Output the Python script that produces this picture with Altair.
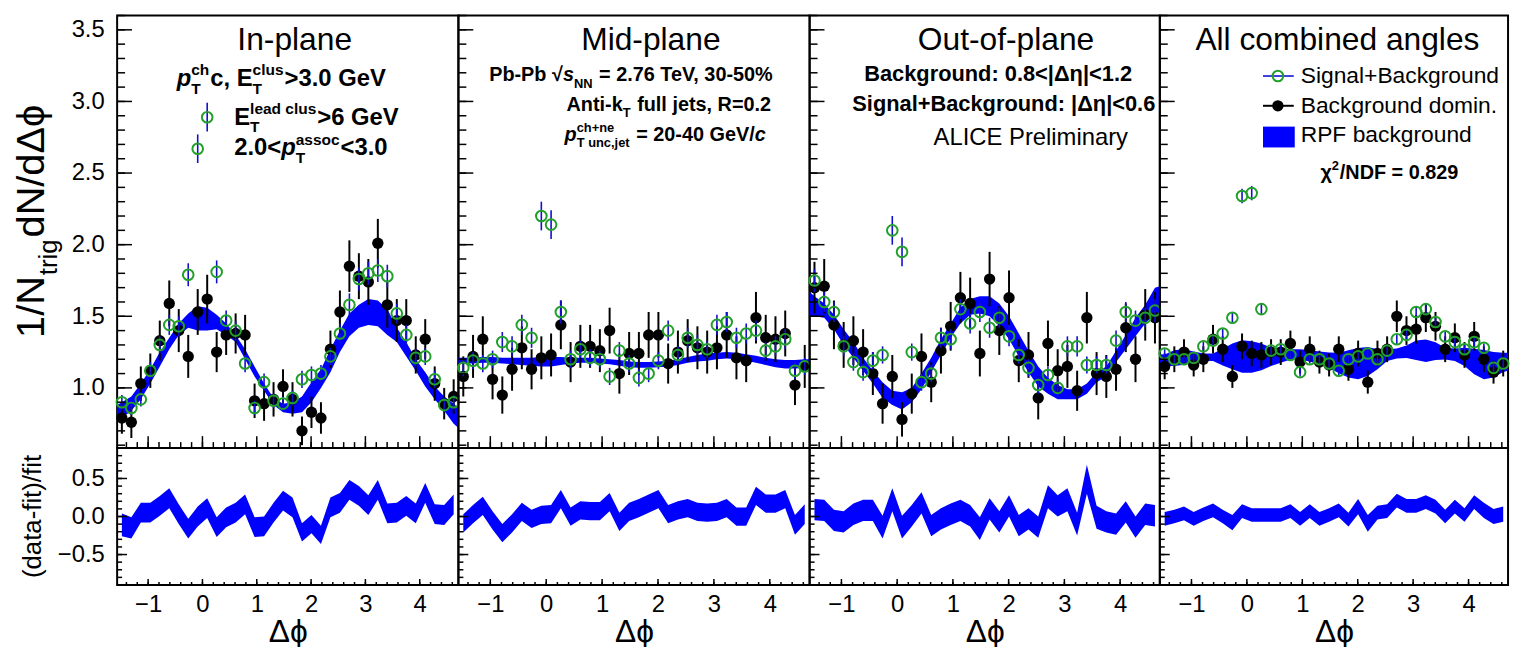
import math
import altair as alt
import pandas as pd

FONT = "Liberation Sans"
PI = math.pi
NB = 36
DPHI = [-PI / 2 + (i + 0.5) * 2 * PI / NB for i in range(NB)]
BAND_X = [-PI / 2] + DPHI + [3 * PI / 2]

TITLES = ["In-plane", "Mid-plane", "Out-of-plane", "All combined angles"]

# ---------------- data ----------------
P1_BLACK = [0.79, 0.76, 1.03, 1.12, 1.33, 1.59, 1.40, 1.22, 1.53, 1.62, 1.25, 1.37, 1.38, 1.37, 0.91, 0.89, 0.92, 1.01,
            0.92, 0.70, 0.83, 0.79, 1.27, 1.53, 1.85, 1.78, 1.74, 2.01, 1.58, 1.47, 1.47, 1.23, 1.34, 1.03, 0.89, 0.94]
P1_BLACK_ERR = [0.11, 0.11, 0.12, 0.12, 0.14, 0.16, 0.15, 0.15, 0.16, 0.17, 0.14, 0.14, 0.14, 0.14, 0.12, 0.12, 0.12, 0.12,
                0.12, 0.10, 0.11, 0.11, 0.13, 0.15, 0.18, 0.16, 0.16, 0.17, 0.16, 0.15, 0.15, 0.13, 0.14, 0.12, 0.11, 0.12]
P1_GREEN = [0.90, 0.86, 0.92, 1.12, 1.30, 1.44, 1.43, 1.79, 2.67, 2.89, 1.81, 1.47, 1.40, 1.17, 0.86, 1.04, 0.91, 0.89,
            0.93, 1.06, 1.09, 1.10, 1.22, 1.38, 1.58, 1.76, 1.80, 1.82, 1.78, 1.52, 1.37, 1.21, 1.22, 1.06, 0.88, 0.90]
P1_GREEN_ERR = [0.05, 0.05, 0.05, 0.06, 0.06, 0.07, 0.07, 0.08, 0.10, 0.10, 0.08, 0.07, 0.07, 0.06, 0.05, 0.06, 0.05, 0.05,
                0.05, 0.06, 0.06, 0.06, 0.06, 0.07, 0.08, 0.08, 0.08, 0.08, 0.08, 0.07, 0.07, 0.06, 0.06, 0.06, 0.05, 0.05]
P1_BAND_LO = [0.77, 0.79, 0.84, 0.92, 1.03, 1.15, 1.27, 1.37, 1.42, 1.40, 1.40, 1.41, 1.37, 1.32, 1.20, 1.08, 0.98, 0.88,
              0.83, 0.82, 0.83, 0.90, 1.00, 1.11, 1.25, 1.36, 1.42, 1.44, 1.43, 1.37, 1.32, 1.22, 1.12, 1.01, 0.92, 0.84,
              0.75, 0.72]
P1_BAND_HI = [0.88, 0.90, 0.94, 1.03, 1.13, 1.25, 1.35, 1.45, 1.52, 1.57, 1.56, 1.51, 1.45, 1.37, 1.27, 1.15, 1.03, 0.93,
              0.89, 0.90, 0.94, 1.04, 1.13, 1.27, 1.40, 1.52, 1.58, 1.62, 1.61, 1.55, 1.42, 1.32, 1.20, 1.11, 1.01, 0.94,
              0.89, 0.86]
P1_RATIO = [-0.11, -0.15, 0.05, 0.05, 0.14, 0.24, 0.03, -0.16, 0.00, 0.11, -0.14, -0.01, 0.05, 0.16, -0.14, -0.13, 0.05,
            0.21, 0.12, -0.21, -0.10, -0.24, 0.12, 0.18, 0.35, 0.27, 0.15, 0.35, 0.04, 0.05, 0.14, 0.04, 0.31, 0.03,
            0.02, 0.16]
P1_RATIO_ERR = [0.15, 0.14, 0.13, 0.13, 0.13, 0.13, 0.13, 0.13, 0.13, 0.13, 0.13, 0.13, 0.13, 0.13, 0.13, 0.13, 0.13, 0.13,
                0.13, 0.12, 0.12, 0.12, 0.13, 0.13, 0.13, 0.13, 0.13, 0.13, 0.13, 0.13, 0.13, 0.13, 0.13, 0.13, 0.13, 0.13]

P2_BLACK = [1.08, 1.22, 1.34, 1.06, 0.95, 1.13, 1.28, 1.13, 1.21, 1.23, 1.44, 1.18, 1.29, 1.29, 1.26, 1.40, 1.10, 1.24,
            1.24, 1.37, 1.37, 1.17, 1.25, 1.33, 1.28, 1.25, 1.28, 1.37, 1.21, 1.19, 1.49, 1.35, 1.34, 1.38, 1.02, 1.15]
P2_BLACK_ERR = [0.14, 0.15, 0.16, 0.14, 0.13, 0.15, 0.15, 0.14, 0.15, 0.15, 0.17, 0.14, 0.15, 0.15, 0.15, 0.16, 0.14, 0.15,
                0.15, 0.16, 0.16, 0.14, 0.15, 0.15, 0.15, 0.15, 0.15, 0.16, 0.15, 0.15, 0.18, 0.16, 0.16, 0.16, 0.14, 0.15]
P2_GREEN = [1.14, 1.19, 1.17, 1.20, 1.32, 1.29, 1.44, 1.35, 2.20, 2.14, 1.53, 1.20, 1.27, 1.21, 1.20, 1.08, 1.26, 1.17,
            1.07, 1.10, 1.19, 1.40, 1.23, 1.35, 1.30, 1.27, 1.44, 1.46, 1.35, 1.38, 1.40, 1.26, 1.29, 1.34, 1.12, 1.15]
P2_GREEN_ERR = [0.06, 0.06, 0.06, 0.06, 0.07, 0.07, 0.07, 0.07, 0.10, 0.10, 0.08, 0.06, 0.06, 0.06, 0.06, 0.06, 0.06, 0.06,
                0.06, 0.06, 0.06, 0.07, 0.06, 0.07, 0.07, 0.06, 0.07, 0.07, 0.07, 0.07, 0.07, 0.06, 0.07, 0.07, 0.06, 0.06]
P2_BAND_LO = [1.17, 1.17, 1.17, 1.175, 1.175, 1.17, 1.165, 1.16, 1.155, 1.15, 1.15, 1.16, 1.17, 1.175, 1.175, 1.17, 1.165,
              1.155, 1.145, 1.14, 1.14, 1.145, 1.15, 1.16, 1.175, 1.185, 1.19, 1.20, 1.205, 1.20, 1.19, 1.175, 1.16,
              1.145, 1.135, 1.135, 1.14, 1.14]
P2_BAND_HI = [1.21, 1.21, 1.21, 1.215, 1.215, 1.21, 1.21, 1.21, 1.21, 1.215, 1.215, 1.215, 1.21, 1.21, 1.21, 1.205, 1.20,
              1.195, 1.185, 1.18, 1.18, 1.185, 1.19, 1.20, 1.215, 1.23, 1.24, 1.245, 1.25, 1.245, 1.235, 1.225, 1.21,
              1.20, 1.195, 1.195, 1.20, 1.20]
P2_RATIO = [-0.09, 0.03, 0.14, -0.05, -0.22, -0.09, 0.06, -0.03, 0.02, 0.03, 0.23, 0.00, 0.08, 0.07, 0.07, 0.19, -0.07,
            0.06, 0.11, 0.17, 0.23, 0.03, 0.08, 0.11, 0.06, 0.05, 0.06, 0.11, 0.00, 0.00, 0.27, 0.17, 0.17, 0.23,
            -0.11, 0.03]
P2_RATIO_ERR = [0.12, 0.12, 0.12, 0.12, 0.12, 0.12, 0.12, 0.12, 0.12, 0.12, 0.12, 0.12, 0.12, 0.12, 0.12, 0.12, 0.12, 0.12,
                0.12, 0.12, 0.12, 0.12, 0.12, 0.12, 0.12, 0.12, 0.12, 0.12, 0.12, 0.12, 0.12, 0.12, 0.12, 0.12, 0.13, 0.13]

P3_BLACK = [1.70, 1.71, 1.44, 1.30, 1.33, 1.25, 1.10, 0.89, 1.08, 0.78, 0.96, 1.22, 1.04, 1.26, 1.43, 1.63, 1.59, 1.24,
            1.76, 1.40, 1.63, 1.19, 1.23, 0.93, 1.31, 1.12, 1.15, 0.98, 1.49, 1.10, 1.08, 1.13, 1.42, 1.20, 1.51, 1.49]
P3_BLACK_ERR = [0.18, 0.19, 0.17, 0.16, 0.17, 0.16, 0.15, 0.14, 0.15, 0.12, 0.14, 0.16, 0.14, 0.16, 0.17, 0.18, 0.18, 0.16,
                0.19, 0.17, 0.19, 0.15, 0.16, 0.15, 0.16, 0.15, 0.15, 0.14, 0.18, 0.15, 0.15, 0.15, 0.17, 0.16, 0.18, 0.18]
P3_GREEN = [1.75, 1.60, 1.53, 1.29, 1.18, 1.11, 1.19, 1.23, 2.10, 1.95, 1.25, 1.04, 1.10, 1.35, 1.34, 1.55, 1.45, 1.53,
            1.42, 1.49, 1.36, 1.23, 1.14, 1.02, 1.09, 1.00, 1.29, 1.29, 1.16, 1.16, 1.16, 1.33, 1.53, 1.47, 1.49, 1.54]
P3_GREEN_ERR = [0.08, 0.07, 0.07, 0.07, 0.06, 0.06, 0.06, 0.06, 0.10, 0.10, 0.06, 0.06, 0.06, 0.07, 0.07, 0.07, 0.07, 0.07,
                0.07, 0.07, 0.07, 0.06, 0.06, 0.06, 0.06, 0.06, 0.07, 0.07, 0.06, 0.06, 0.06, 0.07, 0.07, 0.07, 0.07, 0.08]
P3_BAND_LO = [1.50, 1.50, 1.49, 1.41, 1.30, 1.21, 1.12, 1.03, 0.93, 0.88, 0.85, 0.90, 0.99, 1.11, 1.23, 1.35, 1.45, 1.51,
              1.52, 1.50, 1.43, 1.34, 1.22, 1.11, 1.01, 0.96, 0.92, 0.92, 0.92, 0.96, 1.04, 1.08, 1.18, 1.27, 1.36, 1.45,
              1.52, 1.50]
P3_BAND_HI = [1.67, 1.64, 1.59, 1.51, 1.41, 1.32, 1.21, 1.12, 1.04, 0.98, 0.97, 1.00, 1.10, 1.21, 1.34, 1.45, 1.56, 1.62,
              1.64, 1.64, 1.59, 1.50, 1.38, 1.26, 1.15, 1.07, 1.02, 0.99, 0.99, 1.03, 1.11, 1.15, 1.26, 1.37, 1.49, 1.58,
              1.70, 1.71]
P3_RATIO = [0.09, 0.08, -0.05, -0.07, 0.03, 0.08, 0.08, -0.14, 0.22, -0.14, 0.01, 0.18, -0.12, -0.03, 0.03, 0.08, 0.01,
            -0.16, 0.10, -0.07, 0.14, -0.12, -0.03, -0.14, 0.26, 0.14, 0.22, -0.10, 0.49, -0.01, -0.07, -0.10, 0.06,
            -0.14, 0.03, 0.01]
P3_RATIO_ERR = [0.14, 0.14, 0.14, 0.14, 0.14, 0.14, 0.14, 0.15, 0.15, 0.15, 0.14, 0.14, 0.14, 0.14, 0.14, 0.14, 0.14, 0.15,
                0.14, 0.14, 0.14, 0.14, 0.14, 0.14, 0.15, 0.14, 0.15, 0.15, 0.19, 0.15, 0.14, 0.14, 0.14, 0.14, 0.14, 0.14]

P4_BLACK = [1.15, 1.20, 1.25, 1.16, 1.20, 1.34, 1.27, 1.08, 1.29, 1.24, 1.23, 1.25, 1.25, 1.31, 1.18, 1.27, 1.18, 1.16,
            1.27, 1.13, 1.24, 1.04, 1.24, 1.27, 1.50, 1.40, 1.41, 1.49, 1.43, 1.27, 1.35, 1.23, 1.36, 1.20, 1.11, 1.17]
P4_BLACK_ERR = [0.09, 0.09, 0.09, 0.08, 0.09, 0.10, 0.09, 0.08, 0.09, 0.09, 0.09, 0.09, 0.09, 0.09, 0.08, 0.09, 0.08, 0.08,
                0.09, 0.08, 0.09, 0.08, 0.09, 0.09, 0.11, 0.10, 0.10, 0.10, 0.10, 0.09, 0.10, 0.09, 0.10, 0.09, 0.08, 0.09]
P4_GREEN = [1.24, 1.20, 1.20, 1.21, 1.29, 1.33, 1.38, 1.49, 2.34, 2.36, 1.55, 1.26, 1.27, 1.23, 1.11, 1.20, 1.20, 1.17,
            1.12, 1.20, 1.22, 1.24, 1.20, 1.26, 1.34, 1.37, 1.53, 1.55, 1.46, 1.36, 1.32, 1.27, 1.32, 1.28, 1.14, 1.17]
P4_GREEN_ERR = [0.03, 0.03, 0.03, 0.03, 0.03, 0.03, 0.035, 0.035, 0.05, 0.05, 0.04, 0.03, 0.03, 0.03, 0.03, 0.03, 0.03,
                0.03, 0.03, 0.03, 0.03, 0.03, 0.03, 0.03, 0.035, 0.035, 0.04, 0.04, 0.035, 0.035, 0.035, 0.03, 0.035,
                0.03, 0.03, 0.03]
P4_BAND_LO = [1.150, 1.153, 1.153, 1.162, 1.176, 1.190, 1.188, 1.157, 1.130, 1.106, 1.106, 1.123, 1.153, 1.176, 1.199,
              1.199, 1.185, 1.164, 1.141, 1.102, 1.072, 1.060, 1.083, 1.130, 1.188, 1.206, 1.208, 1.194, 1.181, 1.194,
              1.199, 1.188, 1.153, 1.095, 1.060, 1.072, 1.111, 1.120]
P4_BAND_HI = [1.235, 1.234, 1.262, 1.269, 1.255, 1.241, 1.241, 1.273, 1.310, 1.333, 1.326, 1.310, 1.280, 1.273, 1.269,
              1.269, 1.264, 1.255, 1.248, 1.245, 1.262, 1.278, 1.285, 1.269, 1.269, 1.275, 1.296, 1.331, 1.338, 1.319,
              1.280, 1.275, 1.280, 1.273, 1.264, 1.250, 1.245, 1.245]
P4_RATIO = [-0.03, 0.00, 0.04, -0.03, 0.03, 0.08, 0.00, -0.08, 0.07, 0.02, 0.02, 0.02, 0.02, 0.07, -0.03, 0.07, -0.03,
            0.02, 0.08, -0.04, 0.13, -0.09, 0.05, 0.07, 0.21, 0.14, 0.14, 0.19, 0.13, 0.00, 0.13, 0.02, 0.19, 0.08,
            0.00, 0.03]
P4_RATIO_ERR = [0.09, 0.09, 0.09, 0.09, 0.09, 0.09, 0.09, 0.10, 0.09, 0.09, 0.09, 0.09, 0.09, 0.09, 0.09, 0.09, 0.09, 0.09,
                0.09, 0.09, 0.10, 0.11, 0.09, 0.09, 0.09, 0.09, 0.09, 0.09, 0.09, 0.09, 0.09, 0.09, 0.09, 0.10, 0.10, 0.10]

BLACK = [P1_BLACK, P2_BLACK, P3_BLACK, P4_BLACK]
BLACK_ERR = [P1_BLACK_ERR, P2_BLACK_ERR, P3_BLACK_ERR, P4_BLACK_ERR]
GREEN = [P1_GREEN, P2_GREEN, P3_GREEN, P4_GREEN]
GREEN_ERR = [P1_GREEN_ERR, P2_GREEN_ERR, P3_GREEN_ERR, P4_GREEN_ERR]
BAND_LO = [P1_BAND_LO, P2_BAND_LO, P3_BAND_LO, P4_BAND_LO]
BAND_HI = [P1_BAND_HI, P2_BAND_HI, P3_BAND_HI, P4_BAND_HI]
RATIO = [P1_RATIO, P2_RATIO, P3_RATIO, P4_RATIO]
RATIO_ERR = [P1_RATIO_ERR, P2_RATIO_ERR, P3_RATIO_ERR, P4_RATIO_ERR]

X_MAJOR = [-1, 0, 1, 2, 3, 4]
X_MINOR = [round(-1.4 + 0.2 * i, 1) for i in range(31)]
YT_MAJOR = [1.0, 1.5, 2.0, 2.5, 3.0, 3.5]
YT_MINOR = [round(0.6 + 0.1 * i, 1) for i in range(31)]
YB_MAJOR = [-0.5, 0.0, 0.5]
YB_MINOR = [round(-0.8 + 0.1 * i, 1) for i in range(17)]

# ---------------- layout / style ----------------
PANEL_W = [344, 354, 353, 351]
TOP_H = 436
BOT_H = 138
BLUE = "#0000ff"
BAR_BLUE = "#1010d0"
GREEN_C = "#22a02a"
DOT_SIZE = 130
RING_SIZE = 115

xs = alt.Scale(domain=[-PI / 2, 3 * PI / 2], nice=False, zero=False)
yst = alt.Scale(domain=[0.58, 3.6], nice=False, zero=False)
ysb = alt.Scale(domain=[-0.9, 0.9], nice=False, zero=False)

W_REG = {' ': 278, '!': 278, '%': 889, '(': 333, ')': 333, '+': 584, ',': 278, '-': 333, '.': 278, '/': 278,
         ':': 278, '<': 584, '=': 584, '>': 584, 'A': 667, 'B': 667, 'C': 722, 'D': 722, 'E': 667, 'F': 611,
         'G': 778, 'I': 278, 'L': 556, 'N': 722, 'P': 667, 'R': 722, 'S': 667, 'T': 611, 'V': 667, 'a': 556,
         'b': 556, 'c': 500, 'd': 556, 'e': 556, 'f': 278, 'g': 556, 'h': 556, 'i': 222, 'j': 222, 'k': 500,
         'l': 222, 'm': 833, 'n': 556, 'o': 556, 'p': 556, 'r': 333, 's': 500, 't': 278, 'u': 556, 'y': 500,
         '|': 260, 'Δ': 668, 'η': 556, 'ϕ': 660, 'χ': 520, '√': 550}
W_BOLD = {' ': 278, '%': 889, '(': 333, ')': 333, '+': 584, ',': 278, '-': 333, '.': 278, '/': 278, ':': 333,
          '<': 584, '=': 584, '>': 584, 'A': 722, 'B': 722, 'C': 722, 'D': 722, 'E': 667, 'F': 611, 'G': 778,
          'I': 278, 'L': 611, 'N': 722, 'P': 667, 'R': 722, 'S': 667, 'T': 611, 'V': 667, 'a': 556, 'b': 611,
          'c': 556, 'd': 611, 'e': 556, 'f': 333, 'g': 611, 'h': 611, 'i': 278, 'j': 278, 'k': 556, 'l': 278,
          'm': 889, 'n': 611, 'o': 611, 'p': 611, 'r': 389, 's': 556, 't': 333, 'u': 611, 'y': 556, '|': 280,
          'Δ': 668, 'η': 611, 'ϕ': 660, 'χ': 560, '√': 550}


def twidth(t, bold):
    tab = W_BOLD if bold else W_REG
    return sum(tab.get(c, 556) for c in t) / 1000.0


def text_layer(t, x, y, size, weight="normal", style="normal", angle=0, align="left",
               baseline="alphabetic", color="black"):
    return alt.Chart(pd.DataFrame({"t": [t]})).mark_text(
        align=align, baseline=baseline, fontSize=size, fontWeight=weight, fontStyle=style,
        font=FONT, angle=angle, color=color
    ).encode(x=alt.value(x), y=alt.value(y), text="t:N")


def rich(tokens, x0, y0, size, weight="bold", sup_dy=-0.45, sub_dy=0.33, scr=0.65):
    out = []
    x = x0
    bold = weight == "bold"
    i = 0
    while i < len(tokens):
        t, kind = tokens[i]
        if kind in ("sup", "sub"):
            maxw = 0
            while i < len(tokens) and tokens[i][1] in ("sup", "sub"):
                t2, k2 = tokens[i]
                fs = size * scr
                dy = (sup_dy if k2 == "sup" else sub_dy) * size
                out.append(text_layer(t2, x, y0 + dy, fs, weight))
                maxw = max(maxw, twidth(t2, bold) * fs)
                i += 1
            x += maxw + 1
        else:
            style = "italic" if kind == "i" else "normal"
            lead = len(t) - len(t.lstrip(" "))
            x += lead * twidth(" ", bold) * size
            body = t.lstrip(" ")
            if body.strip():
                out.append(text_layer(body.rstrip(" "), x, y0, size, weight, style))
            x += twidth(body, bold) * size
            i += 1
    return out


def ticks_left(vals, length, yscale, yaxis):
    return alt.Chart(pd.DataFrame({"v": vals})).mark_rule(color="black", strokeWidth=1.5).encode(
        y=alt.Y("v:Q", scale=yscale, axis=yaxis), x=alt.value(0), x2=alt.value(length))


def ticks_bottom(vals, length, h, xaxis):
    return alt.Chart(pd.DataFrame({"v": vals})).mark_rule(color="black", strokeWidth=1.5).encode(
        x=alt.X("v:Q", scale=xs, axis=xaxis), y=alt.value(h), y2=alt.value(h - length))


def top_panel(k):
    df = pd.DataFrame({"dphi": DPHI, "bk": BLACK[k], "gr": GREEN[k]})
    df["bk_lo"] = [v - e for v, e in zip(BLACK[k], BLACK_ERR[k])]
    df["bk_hi"] = [v + e for v, e in zip(BLACK[k], BLACK_ERR[k])]
    df["gr_lo"] = [v - e for v, e in zip(GREEN[k], GREEN_ERR[k])]
    df["gr_hi"] = [v + e for v, e in zip(GREEN[k], GREEN_ERR[k])]
    band = pd.DataFrame({"x": BAND_X, "lo": BAND_LO[k], "hi": BAND_HI[k]})
    if k == 0:
        yaxis = alt.Axis(values=YT_MAJOR, format=".1f", labelFontSize=24, labelFont=FONT, labelColor="black",
                         ticks=False, tickSize=0, domain=False, grid=False, title=None, labelPadding=13,
                         labelFlush=False, labelOverlap=False)
    else:
        yaxis = None
    X = alt.X("dphi:Q", scale=xs, axis=None)
    layers = [
        alt.Chart(band).mark_area(color=BLUE, opacity=1, interpolate="linear").encode(
            x=alt.X("x:Q", scale=xs, axis=None), y=alt.Y("lo:Q", scale=yst, axis=yaxis), y2="hi:Q"),
        alt.Chart(df).mark_rule(color="black", strokeWidth=2).encode(
            x=X, y=alt.Y("bk_lo:Q", scale=yst, axis=yaxis), y2="bk_hi:Q"),
        alt.Chart(df).mark_circle(color="black", size=DOT_SIZE, opacity=1).encode(
            x=X, y=alt.Y("bk:Q", scale=yst, axis=yaxis)),
        alt.Chart(df).mark_rule(color=BAR_BLUE, strokeWidth=1.6).encode(
            x=X, y=alt.Y("gr_lo:Q", scale=yst, axis=yaxis), y2="gr_hi:Q"),
        alt.Chart(df).mark_point(shape="circle", filled=False, color=GREEN_C, size=RING_SIZE, strokeWidth=2,
                                 opacity=1).encode(x=X, y=alt.Y("gr:Q", scale=yst, axis=yaxis)),
        ticks_left(YT_MINOR, 8, yst, yaxis),
        ticks_left(YT_MAJOR, 15, yst, yaxis),
        ticks_bottom(X_MINOR, 6, TOP_H, None),
        ticks_bottom(X_MAJOR, 12, TOP_H, None),
    ]
    title_x = [179, 194, 198, 179][k]
    layers.append(text_layer(TITLES[k], title_x, 35, 32, align="center"))
    if k == 0:
        layers += rich([("p", "i"), ("ch", "sup"), ("T", "sub"), ("c, E", "n"), ("clus", "sup"), ("T", "sub"),
                        (">3.0 GeV", "n")], 60, 71, 24)
        layers += rich([("E", "n"), ("lead clus", "sup"), ("T", "sub"), (">6 GeV", "n")], 118, 110, 24)
        layers += rich([("2.0<", "n"), ("p", "i"), ("assoc", "sup"), ("T", "sub"), ("<3.0", "n")], 118, 141, 24)
        # rotated y title: 1/N_trig dN/dΔϕ
        bx, sy = -74, 325
        l1 = twidth("1/N", False) * 40
        l2 = twidth("trig", False) * 26
        layers.append(text_layer("1/N", bx, sy, 40, angle=270))
        layers.append(text_layer("trig", bx + 13, sy - l1 - 1, 26, angle=270))
        layers.append(text_layer("dN/dΔϕ", bx, sy - l1 - l2 - 3, 40, angle=270))
        layers.append(alt.Chart(pd.DataFrame({"a": [0]})).mark_rule(opacity=0, strokeOpacity=0).encode(
            x=alt.value(-109), y=alt.value(-4), y2=alt.value(0)))
    elif k == 1:
        layers += rich([("Pb-Pb ", "n"), ("√", "n"), ("s", "i"), ("NN", "sub"), (" = 2.76 TeV, 30-50%", "n")],
                       31, 66, 20)
        layers += rich([("Anti-k", "n"), ("T", "sub"), (" full jets, R=0.2", "n")], 109, 96, 20)
        layers += rich([("p", "i"), ("ch+ne", "sup"), ("T unc,jet", "sub"), (" = 20-40 GeV/", "n"), ("c", "i")],
                       107, 126, 20)
    elif k == 2:
        layers.append(text_layer("Background: 0.8<|Δη|<1.2", 55, 66, 22, weight="bold"))
        layers.append(text_layer("Signal+Background: |Δη|<0.6", 43, 96, 22, weight="bold"))
        layers.append(text_layer("ALICE Preliminary", 125, 131, 24))
    else:
        one = pd.DataFrame({"a": [0]})
        layers.append(alt.Chart(one).mark_rule(color=BAR_BLUE, strokeWidth=1.6).encode(
            x=alt.value(104), x2=alt.value(135), y=alt.value(61)))
        layers.append(alt.Chart(one).mark_point(shape="circle", filled=False, color=GREEN_C, size=RING_SIZE,
                                                strokeWidth=2, opacity=1).encode(x=alt.value(119), y=alt.value(61)))
        layers.append(alt.Chart(one).mark_rule(color="black", strokeWidth=2).encode(
            x=alt.value(104), x2=alt.value(135), y=alt.value(91)))
        layers.append(alt.Chart(one).mark_circle(color="black", size=DOT_SIZE, opacity=1).encode(
            x=alt.value(119), y=alt.value(91)))
        layers.append(alt.Chart(one).mark_rect(color=BLUE, opacity=1).encode(
            x=alt.value(104), x2=alt.value(136), y=alt.value(112), y2=alt.value(133)))
        layers.append(text_layer("Signal+Background", 142, 61, 23, baseline="middle"))
        layers.append(text_layer("Background domin.", 142, 91, 23, baseline="middle"))
        layers.append(text_layer("RPF background", 142, 121, 23, baseline="middle"))
        layers += rich([("χ", "n"), ("2", "sup"), ("/NDF = 0.829", "n")], 162, 165, 20)
    return alt.layer(*layers).properties(width=PANEL_W[k], height=TOP_H)


def bottom_panel(k):
    df = pd.DataFrame({"dphi": DPHI})
    df["lo"] = [v - e for v, e in zip(RATIO[k], RATIO_ERR[k])]
    df["hi"] = [v + e for v, e in zip(RATIO[k], RATIO_ERR[k])]
    xaxis = alt.Axis(values=X_MAJOR, format="d", labelFontSize=24, labelFont=FONT, labelColor="black",
                     ticks=False, tickSize=0, domain=False, grid=False, title="Δϕ", titleFontSize=32,
                     titleFont=FONT, titleFontWeight="normal", titleColor="black", labelPadding=8,
                     titlePadding=0, labelFlush=False, labelOverlap=False)
    if k == 0:
        yaxis = alt.Axis(values=YB_MAJOR, format=".1f", labelFontSize=24, labelFont=FONT, labelColor="black",
                         ticks=False, tickSize=0, domain=False, grid=False, title=None, labelPadding=13,
                         labelFlush=False, labelOverlap=False)
    else:
        yaxis = None
    layers = [
        alt.Chart(df).mark_area(color=BLUE, opacity=1, interpolate="linear").encode(
            x=alt.X("dphi:Q", scale=xs, axis=xaxis), y=alt.Y("lo:Q", scale=ysb, axis=yaxis), y2="hi:Q"),
        ticks_left(YB_MINOR, 5, ysb, yaxis),
        ticks_left(YB_MAJOR, 10, ysb, yaxis),
        ticks_bottom(X_MINOR, 3, BOT_H, xaxis),
        ticks_bottom(X_MAJOR, 6, BOT_H, xaxis),
    ]
    if k == 0:
        layers.append(text_layer("(data-fit)/fit", -85, 69, 26, angle=270, align="center", baseline="middle"))
    return alt.layer(*layers).properties(width=PANEL_W[k], height=BOT_H)


panels = [top_panel(k) for k in range(4)] + [bottom_panel(k) for k in range(4)]
chart = alt.concat(*panels, columns=4, spacing=0, bounds="flush").properties(
    padding={"left": 0, "top": 0, "right": 0, "bottom": 0}
).configure(font=FONT).configure_view(stroke="black", strokeWidth=2)

chart.save("out.html", embed_options={"renderer": "svg", "actions": False})
